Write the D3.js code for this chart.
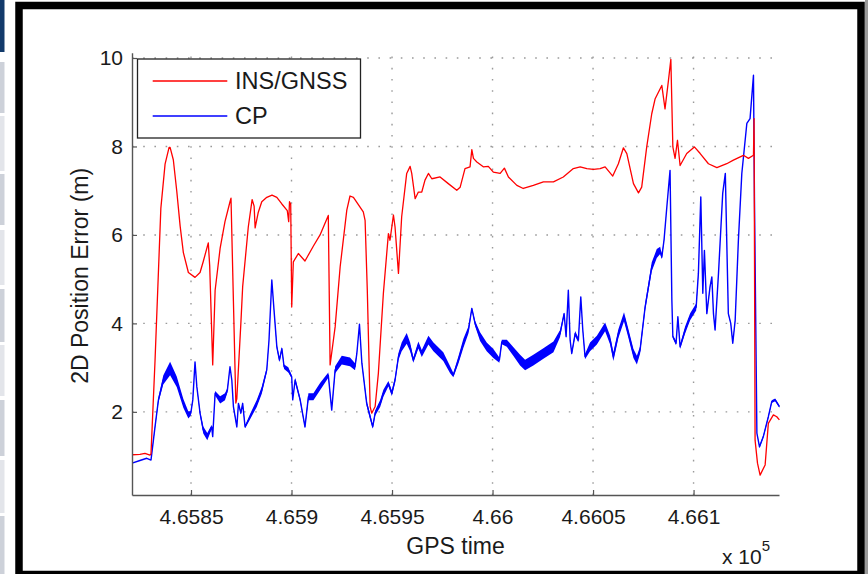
<!DOCTYPE html>
<html>
<head>
<meta charset="utf-8">
<script src="https://cdn.jsdelivr.net/npm/d3@7/dist/d3.min.js"></script>
<style>
  html, body { margin: 0; padding: 0; background: #fff; }
  svg { display: block; }
  text { font-family: "Liberation Sans", Arial, Helvetica, sans-serif; fill: #1a1a1a; }
</style>
</head>
<body>
<svg id="chart" width="868" height="574"></svg>
<script>
// ---------------- data ----------------
const seriesNames = ["INS/GNSS", "CP"];
const xTicks = [465850, 465900, 465950, 466000, 466050, 466100];
const yTicks = [2, 4, 6, 8, 10];
const xLabel = "GPS time";
const yLabel = "2D Position Error (m)";

// INS/GNSS error
const insTime = [465820.7,465824.6,465827.1,465829.6,465830.1,465832.1,465835.0,465837.1,465839.1,465839.6,465841.2,465842.9,465844.6,465846.2,465848.7,465852.0,465854.5,465856.1,465858.6,465859.3,465860.8,465862.0,465864.5,465866.9,465869.4,465869.9,465871.1,465872.3,465872.8,465874.8,465875.7,465878.5,465880.4,465881.4,465881.9,465883.4,465885.2,465887.7,465890.3,465892.7,465895.2,465897.9,465898.6,465899.0,465899.6,465900.1,465900.9,465903.4,465906.7,465910.9,465914.2,465918.3,465919.2,465921.7,465924.2,465927.5,465929.1,465930.8,465935.7,465936.6,465937.7,465939.1,465939.9,465941.6,465943.2,465945.7,465948.2,465949.0,465950.7,465951.5,465953.2,465954.8,465957.3,465959.0,465959.8,465961.5,465963.1,465964.8,465966.4,465968.1,465969.8,465973.9,465978.0,465982.2,465983.9,465986.3,465988.8,465989.7,465990.5,465992.2,465995.4,465997.9,466000.4,466003.8,466005.9,466007.9,466012.1,466015.3,466020.3,466025.3,466030.3,466035.2,466040.2,466043.6,466046.9,466050.2,466053.5,466056.0,466059.8,466062.6,466065.1,466066.8,466070.1,466072.6,466074.2,466076.7,466079.2,466080.9,466084.2,466085.8,466087.5,466088.7,466089.7,466090.8,466092.0,466093.3,466096.6,466100.4,466103.3,466107.4,466111.6,466116.5,466119.8,466124.8,466127.3,466129.8,466130.1,466130.6,466131.8,466133.1,466135.6,466137.2,466139.7,466141.4,466142.7];
const insError = [1.03,1.04,1.06,1.02,1.05,3.15,6.6,7.6,7.98,7.98,7.7,7.0,6.2,5.6,5.15,5.04,5.15,5.4,5.82,5.3,3.06,4.75,5.7,6.3,6.75,6.83,4.5,2.2,2.3,4.0,4.83,6.18,6.8,6.65,6.16,6.5,6.75,6.85,6.9,6.85,6.7,6.55,6.3,6.75,6.7,4.37,5.39,5.58,5.41,5.75,6.0,6.44,3.06,3.92,5.28,6.56,6.88,6.85,6.52,6.33,4.75,2.12,1.97,2.12,2.87,4.68,6.03,5.88,6.45,6.18,5.13,6.41,7.39,7.55,7.39,6.82,6.97,6.97,7.24,7.39,7.27,7.31,7.16,7.01,7.08,7.5,7.54,7.93,7.73,7.65,7.54,7.55,7.42,7.39,7.51,7.31,7.12,7.05,7.12,7.2,7.2,7.31,7.5,7.54,7.5,7.48,7.5,7.54,7.33,7.61,7.97,7.84,7.16,6.95,7.08,7.99,8.74,9.08,9.38,8.85,9.49,9.97,7.99,7.73,8.14,7.57,7.84,7.99,7.84,7.61,7.52,7.61,7.69,7.8,7.73,7.8,8.63,1.36,0.84,0.57,0.8,1.74,1.93,1.89,1.82];

// CP error (centre value) and half-width of its dense jitter band
const cpTime = [465820.7,465824.6,465828.0,465830.1,465832.1,465833.8,465836.2,465839.6,465842.9,465846.2,465848.7,465849.9,465850.9,465852.0,465852.9,465854.5,465856.1,465858.1,465860.3,465860.8,465862.0,465864.5,465866.9,465868.1,465869.4,465870.3,465871.1,465872.8,465873.6,465874.8,465875.7,465876.9,465879.4,465882.7,465885.2,465887.7,465888.8,465890.2,465891.3,465892.7,465894.0,465895.2,465896.3,465898.4,465900.1,465900.6,465901.8,465904.3,465906.7,465908.4,465910.9,465914.2,465918.3,465920.0,465921.7,465925.0,465929.1,465931.6,465932.5,465933.8,465935.0,465937.4,465939.1,465940.4,465941.6,465944.1,465945.7,465948.2,465949.9,465951.5,465953.2,465954.8,465957.3,465959.0,465960.6,465963.1,465964.8,465968.1,465970.6,465975.5,465978.9,465980.5,465983.0,465985.5,465988.0,465989.7,465991.3,465993.8,465997.1,466000.4,466003.4,466004.6,466007.1,466010.4,466013.7,466016.2,466020.3,466025.3,466030.3,466033.6,466035.6,466036.6,466037.7,466038.6,466039.4,466041.1,466042.7,466043.9,466044.9,466046.0,466048.5,466051.9,466056.0,466058.5,466060.1,466062.6,466065.4,466067.6,466070.1,466071.8,466073.4,466075.9,466079.2,466081.7,466083.4,466084.2,466085.3,466086.7,466088.3,466089.2,466089.7,466091.3,466092.2,466093.3,466095.8,466098.3,466101.3,466102.4,466103.6,466104.6,466105.4,466106.6,466108.2,466109.1,466109.9,466110.7,466112.4,466114.5,466115.8,466116.5,466117.3,466118.5,466119.5,466120.7,466122.3,466124.0,466126.5,466128.1,466129.8,466130.3,466131.5,466132.8,466134.7,466137.2,466138.9,466140.6,466142.7];
const cpError = [0.84,0.9,0.95,0.91,1.66,2.27,2.72,2.98,2.68,2.19,1.93,1.97,2.27,3.13,2.57,1.97,1.59,1.44,1.66,1.44,2.42,2.27,2.34,2.49,3.02,2.72,2.12,1.66,2.19,1.97,2.19,1.66,1.89,2.19,2.49,2.95,3.62,4.98,4.3,3.47,3.17,3.43,3.02,2.95,2.79,2.27,2.72,2.27,1.66,2.34,2.34,2.57,2.83,2.04,2.95,3.17,3.13,3.02,3.32,3.98,3.1,2.19,1.89,1.66,1.97,2.19,2.42,2.64,2.42,2.72,3.25,3.47,3.66,3.47,3.17,3.51,3.32,3.62,3.47,3.25,2.95,2.83,3.17,3.55,3.85,4.34,4.0,3.7,3.47,3.32,3.17,3.58,3.55,3.36,3.17,3.06,3.17,3.32,3.47,3.77,4.22,3.7,4.75,3.62,3.32,3.77,3.62,4.6,3.85,3.25,3.47,3.62,3.92,3.62,3.25,3.77,4.15,3.77,3.32,3.17,3.4,4.37,5.28,5.58,5.65,5.5,5.88,6.63,7.46,4.53,3.7,3.55,4.15,3.47,3.85,4.15,4.37,5.13,6.86,4.68,5.65,4.22,4.83,5.05,4.22,3.85,5.13,6.94,7.39,5.88,4.22,4.0,3.55,4.07,5.88,7.39,8.52,8.63,9.61,6.78,1.52,1.21,1.44,1.89,2.23,2.27,2.12];
const cpSpread = [0,0,0,0,0.03,0.06,0.1,0.15,0.12,0.1,0.08,0.05,0.02,0,0.02,0.05,0.08,0.08,0.05,0,0.05,0.08,0.08,0.05,0,0,0.03,0.03,0.02,0.03,0.03,0.03,0.06,0.08,0.08,0.05,0.02,0,0.02,0.05,0.05,0.04,0.05,0.06,0.03,0,0.05,0.05,0.03,0.08,0.08,0.08,0.06,0,0.08,0.1,0.1,0.08,0.03,0,0.03,0.06,0.06,0.04,0.06,0.08,0.08,0.06,0.06,0.06,0.08,0.1,0.12,0.1,0.06,0.08,0.08,0.1,0.1,0.1,0.08,0.05,0.08,0.1,0.08,0.02,0.06,0.1,0.1,0.1,0.06,0.05,0.08,0.1,0.12,0.12,0.12,0.12,0.12,0.08,0.03,0.03,0,0.02,0.03,0.06,0.05,0,0.03,0.06,0.1,0.1,0.1,0.1,0.1,0.1,0.1,0.1,0.1,0.1,0.08,0.08,0.1,0.1,0.08,0.05,0.03,0,0,0,0.03,0.05,0.02,0.05,0.08,0.08,0.08,0.02,0,0,0,0.02,0.02,0,0.02,0.02,0,0,0,0,0.02,0.02,0.02,0.02,0,0,0,0,0,0,0,0.03,0.03,0.03,0.03,0.03,0.03];

// ---------------- drawing ----------------
const svg = d3.select("#chart");
const W = 868, H = 574;
const plot = { left: 132, right: 779, top: 52.7, bottom: 495 };

// window decoration around the figure (screenshot frame)
const stripBlocks = [[0,52,"#123a6b"],[62,113,"#cdd1d9"],[116,171,"#e3e5ea"],[174,225,"#cdd1d9"],[230,285,"#e3e5ea"],[289,342,"#cdd1d9"],[345,396,"#e3e5ea"],[400,456,"#cdd1d9"],[460,513,"#e3e5ea"],[516,574,"#cdd1d9"]];
svg.append("g").selectAll("rect").data(stripBlocks).join("rect")
  .attr("x", 0).attr("width", 4.5)
  .attr("y", d => d[0]).attr("height", d => d[1] - d[0])
  .attr("fill", d => d[2]);
svg.append("rect").attr("x", 865).attr("y", 0).attr("width", 3).attr("height", H).attr("fill", "#9a9a9a");
svg.append("rect").attr("x", 19).attr("y", 5.5).attr("width", 842).attr("height", 569)
  .attr("fill", "#fff").attr("stroke", "#000").attr("stroke-width", 7.5);

const x = d3.scaleLinear().domain([465820.65, 466142.5]).range([plot.left, plot.right]);
const y = d3.scaleLinear().domain([0.12, 10.12]).range([plot.bottom, plot.top]);

// grid
const grid = svg.append("g").attr("stroke", "#9a9a9a").attr("stroke-width", 1.4)
  .attr("stroke-dasharray", "1.6,9.6");
grid.selectAll("line.h").data(yTicks).join("line").attr("class", "h")
  .attr("x1", plot.left).attr("x2", plot.right)
  .attr("y1", d => y(d)).attr("y2", d => y(d));
grid.selectAll("line.v").data(xTicks).join("line").attr("class", "v")
  .attr("y1", plot.bottom).attr("y2", plot.top)
  .attr("x1", d => x(d)).attr("x2", d => x(d));

// series
const cpRows = cpTime.map((t, i) => ({ t, v: cpError[i], w: cpSpread[i] }));
const insRows = insTime.map((t, i) => ({ t, v: insError[i] }));

svg.append("path").datum(cpRows)
  .attr("fill", "#0000ff")
  .attr("d", d3.area().x(d => x(d.t)).y0(d => y(d.v - d.w)).y1(d => y(d.v + d.w)));
svg.append("path").datum(cpRows)
  .attr("fill", "none").attr("stroke", "#0000ff").attr("stroke-width", 1.4)
  .attr("stroke-linejoin", "round")
  .attr("d", d3.line().x(d => x(d.t)).y(d => y(d.v)));
svg.append("path").datum(insRows)
  .attr("fill", "none").attr("stroke", "#ff0000").attr("stroke-width", 1.3)
  .attr("stroke-linejoin", "round")
  .attr("d", d3.line().x(d => x(d.t)).y(d => y(d.v)));

// axes
const fmtX = d => String(+(d / 1e5).toFixed(5));
const xAxis = d3.axisBottom(x).tickValues(xTicks).tickFormat(fmtX).tickSizeInner(-5).tickSizeOuter(0).tickPadding(14);
const gx = svg.append("g").attr("transform", `translate(0,${plot.bottom})`).call(xAxis);
gx.select(".domain").attr("stroke", "#555").attr("stroke-width", 1.4);
gx.selectAll(".tick line").attr("stroke", "#555").attr("stroke-width", 1.2);
gx.selectAll(".tick text").attr("font-size", 21).attr("fill", "#1a1a1a")
  .attr("font-family", "Liberation Sans, Arial, sans-serif");

const yAxis = d3.axisLeft(y).tickValues(yTicks).tickFormat(d3.format("d")).tickSizeInner(-5).tickSizeOuter(0).tickPadding(9);
const gy = svg.append("g").attr("transform", `translate(${plot.left},0)`).call(yAxis);
gy.select(".domain").attr("stroke", "#555").attr("stroke-width", 1.4);
gy.selectAll(".tick line").attr("stroke", "#555").attr("stroke-width", 1.2);
gy.selectAll(".tick text").attr("font-size", 21).attr("fill", "#1a1a1a")
  .attr("font-family", "Liberation Sans, Arial, sans-serif");

// axis titles
svg.append("text").attr("x", (plot.left + plot.right) / 2).attr("y", 554)
  .attr("text-anchor", "middle").attr("font-size", 23).text(xLabel);
svg.append("text").attr("transform", `translate(88,${(plot.top + plot.bottom) / 2 + 2}) rotate(-90)`)
  .attr("text-anchor", "middle").attr("font-size", 23).text(yLabel);

// exponent
const ex = svg.append("text").attr("x", 722).attr("y", 564).attr("font-size", 21);
ex.append("tspan").text("x 10");
ex.append("tspan").attr("dy", -13).attr("font-size", 15).text("5");

// legend
const legend = svg.append("g");
legend.append("rect").attr("x", 137.5).attr("y", 59).attr("width", 223).attr("height", 79)
  .attr("fill", "#fff").attr("stroke", "#222").attr("stroke-width", 1.3);
const legendColors = ["#ff0000", "#0000ff"];
const items = legend.selectAll("g.item").data(seriesNames).join("g").attr("class", "item")
  .attr("transform", (d, i) => `translate(0,${81 + i * 35})`);
items.append("line").attr("x1", 152.7).attr("x2", 227.3).attr("y1", 0).attr("y2", 0)
  .attr("stroke", (d, i) => legendColors[i]).attr("stroke-width", 1.3);
items.append("text").attr("x", 235).attr("y", 0).attr("dy", "0.36em")
  .attr("font-size", 23.5).text(d => d);
</script>
</body>
</html>
